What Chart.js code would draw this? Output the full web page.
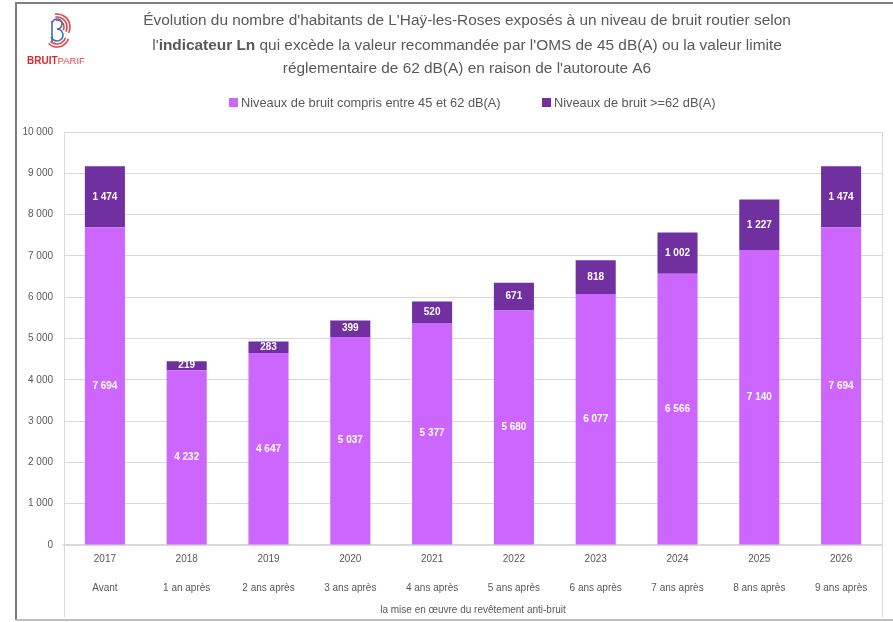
<!DOCTYPE html>
<html lang="fr">
<head>
<meta charset="utf-8">
<script src="https://cdn.jsdelivr.net/npm/chart.js@4.4.1/dist/chart.umd.min.js"></script>
<style>
  html, body { margin: 0; padding: 0; background: #fff; }
  #wrap { width: 893px; height: 622px; position: relative; }
</style>
</head>
<body>
<div id="wrap"><canvas id="noiseChart" width="893" height="622"></canvas></div>
<script>
// Chart data
const years = ['2017', '2018', '2019', '2020', '2021', '2022', '2023', '2024', '2025', '2026'];
const periodLabels = ['Avant', '1 an après', '2 ans après', '3 ans après', '4 ans après', '5 ans après',
    '6 ans après', '7 ans après', '8 ans après', '9 ans après'];
const between45and62 = [7694, 4232, 4647, 5037, 5377, 5680, 6077, 6566, 7140, 7694];
const above62 = [1474, 219, 283, 399, 520, 671, 818, 1002, 1227, 1474];
const seriesNames = ['Niveaux de bruit compris entre 45 et 62 dB(A)', 'Niveaux de bruit >=62 dB(A)'];
const axisCaption = 'la mise en œuvre du revêtement anti-bruit';
const titleLines = [
    [["Évolution du nombre d'habitants de L'Haÿ-les-Roses exposés à un niveau de bruit routier selon", false]],
    [["l'", false], ["indicateur Ln", true], [" qui excède la valeur recommandée par l'OMS de 45 dB(A) ou la valeur limite", false]],
    [["réglementaire de 62 dB(A) en raison de l'autoroute A6", false]]
];

const FONT = "'Liberation Sans Narrow', 'Liberation Sans', Arial, sans-serif";
const GREY_TEXT = '#595959';
const LIGHT_PURPLE = '#cc66ff';
const DARK_PURPLE = '#7030a0';

// format numbers the french way: 10 000
function frNumber(v) {
    return String(Math.round(v)).replace(/\B(?=(\d{3})+(?!\d))/g, ' ');
}

// Frame, title, logo and legend
const decorPlugin = {
    id: 'decor',
    beforeDraw(chart) {
        const ctx = chart.ctx;
        ctx.save();
        // outer frame
        ctx.strokeStyle = '#7f7f7f';
        ctx.lineWidth = 2;
        ctx.beginPath();
        ctx.moveTo(893, 3);
        ctx.lineTo(16, 3);
        ctx.lineTo(16, 620);
        ctx.stroke();
        ctx.strokeStyle = '#bfbfbf';
        ctx.beginPath();
        ctx.moveTo(16, 620);
        ctx.lineTo(893, 620);
        ctx.stroke();

        // logo icon (rough)
        ctx.lineWidth = 1.6;
        ctx.strokeStyle = '#e0474c';
        [7, 10, 13].forEach(r => {
            ctx.beginPath();
            ctx.arc(57, 27, r, -Math.PI * 0.55, Math.PI * 0.15);
            ctx.stroke();
        });
        ctx.strokeStyle = '#3b6fb6';
        ctx.beginPath();
        ctx.arc(57, 24, 5, -Math.PI * 0.9, Math.PI * 0.5);
        ctx.arc(57, 35, 6, -Math.PI * 0.5, Math.PI * 0.9);
        ctx.stroke();
        ctx.beginPath();
        ctx.moveTo(52, 21);
        ctx.lineTo(52, 42);
        ctx.stroke();
        ctx.strokeStyle = '#e0474c';
        [9, 12].forEach(r => {
            ctx.beginPath();
            ctx.arc(57, 35, r, Math.PI * 0.1, Math.PI * 0.75);
            ctx.stroke();
        });

        ctx.textBaseline = 'alphabetic';
        ctx.textAlign = 'left';
        ctx.font = 'bold 10px ' + FONT;
        ctx.fillStyle = '#d42a30';
        ctx.fillText('BRUIT', 27, 64);
        const w = ctx.measureText('BRUIT').width;
        ctx.font = '9.5px ' + FONT;
        ctx.fillStyle = '#e0474c';
        ctx.fillText('PARIF', 27 + w, 64);

        // title with a bold part
        ctx.fillStyle = GREY_TEXT;
        ctx.textBaseline = 'middle';
        const cx = 467;
        const ys = [21, 46, 69];
        const size = 15.4;
        titleLines.forEach((runs, i) => {
            let total = 0;
            runs.forEach(([t, b]) => {
                ctx.font = (b ? 'bold ' : '') + size + 'px ' + FONT;
                total += ctx.measureText(t).width;
            });
            let x = cx - total / 2;
            runs.forEach(([t, b]) => {
                ctx.font = (b ? 'bold ' : '') + size + 'px ' + FONT;
                ctx.fillText(t, x, ys[i]);
                x += ctx.measureText(t).width;
            });
        });

        // legend
        ctx.font = '12.8px ' + FONT;
        const boxes = [[229, LIGHT_PURPLE], [542, DARK_PURPLE]];
        boxes.forEach(([bx, color], i) => {
            ctx.fillStyle = color;
            ctx.fillRect(bx, 98, 9, 9);
            ctx.fillStyle = GREY_TEXT;
            ctx.fillText(seriesNames[i], bx + 12, 103);
        });
        ctx.restore();
    },
    afterDraw(chart) {
        const ctx = chart.ctx;
        const area = chart.chartArea;
        ctx.save();
        // vertical lines of the multi-level category axis
        ctx.strokeStyle = '#d9d9d9';
        ctx.lineWidth = 1;
        ctx.beginPath();
        ctx.moveTo(area.left + 0.5, area.top);
        ctx.lineTo(area.left + 0.5, 617);
        ctx.moveTo(area.right + 0.5, area.top);
        ctx.lineTo(area.right + 0.5, 617);
        ctx.stroke();

        // value labels inside the segments
        ctx.fillStyle = '#ffffff';
        ctx.font = 'bold 10px ' + FONT;
        ctx.textAlign = 'center';
        ctx.textBaseline = 'middle';
        chart.data.datasets.forEach((ds, di) => {
            const meta = chart.getDatasetMeta(di);
            meta.data.forEach((bar, i) => {
                const yMid = (bar.y + bar.base) / 2;
                ctx.fillText(frNumber(ds.data[i]), bar.x, yMid);
            });
        });
        ctx.restore();
    }
};

const ctx = document.getElementById('noiseChart').getContext('2d');
const noiseChart = new Chart(ctx, {
    type: 'bar',
    data: {
        labels: years.map((y, i) => [y, periodLabels[i]]),
        datasets: [{
            label: seriesNames[0],
            data: between45and62,
            backgroundColor: LIGHT_PURPLE,
            barPercentage: 0.49,
            categoryPercentage: 1
        }, {
            label: seriesNames[1],
            data: above62,
            backgroundColor: DARK_PURPLE,
            barPercentage: 0.49,
            categoryPercentage: 1
        }]
    },
    options: {
        responsive: false,
        animation: false,
        layout: { padding: { top: 132, left: 0, right: 11, bottom: 5 } },
        plugins: {
            legend: { display: false },
            title: { display: false },
            tooltip: { enabled: false }
        },
        scales: {
            x: {
                stacked: true,
                grid: { display: false, drawTicks: false },
                border: { color: '#d9d9d9', width: 2 },
                ticks: {
                    color: GREY_TEXT,
                    font: { family: FONT, size: 10, lineHeight: 2.9 },
                    padding: 0,
                    maxRotation: 0,
                    autoSkip: false
                },
                title: {
                    display: true,
                    text: axisCaption,
                    color: GREY_TEXT,
                    font: { family: FONT, size: 10 },
                    padding: { top: 0, bottom: 1 }
                },
                afterFit(scale) { scale.height = 72; }
            },
            y: {
                stacked: true,
                min: 0,
                max: 10000,
                grid: { color: '#d9d9d9', lineWidth: 1, drawTicks: false },
                border: { display: false },
                ticks: {
                    stepSize: 1000,
                    color: GREY_TEXT,
                    font: { family: FONT, size: 10 },
                    padding: 11,
                    callback: v => frNumber(v)
                },
                afterFit(scale) { scale.width = 64; }
            }
        }
    },
    plugins: [decorPlugin]
});
</script>
</body>
</html>
